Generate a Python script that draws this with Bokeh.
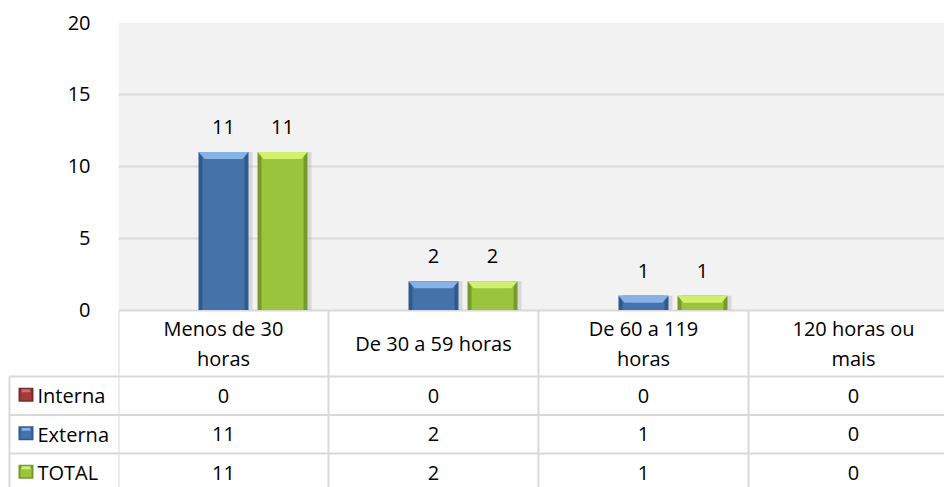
from bokeh.plotting import figure
from bokeh.models import Range1d, FixedTicker, BoxAnnotation
from bokeh.core.properties import value
from bokeh.embed import file_html
from bokeh.resources import INLINE

# ---------------- data ----------------
categories = ["Menos de 30 horas", "De 30 a 59 horas", "De 60 a 119 horas", "120 horas ou mais"]
category_labels = ["Menos de 30\nhoras", "De 30 a 59 horas", "De 60 a 119\nhoras", "120 horas ou\nmais"]
series_names = ["Interna", "Externa", "TOTAL"]
interna = [0, 0, 0, 0]
externa = [11, 2, 1, 0]
total = [11, 2, 1, 0]
y_ticks = [0, 5, 10, 15, 20]

# ---------------- styles / geometry ----------------
FONT = value("Open Sans")
FS = "20px"
TXT = "#000000"
GRID = "#d9d9d9"
W, H = 944, 487
FRAME_L, FRAME_T = 118, 22
COL_PX = 210.0      # width of one category column (px)
UNIT_PX = 14.375    # px per value unit
ZERO_PY = 309.5     # page y of value 0


def vy(py):
    """page y (px) -> value units"""
    return (ZERO_PY - py) / UNIT_PX


def vx(px):
    """page x (px) -> category units"""
    return (px - FRAME_L) / COL_PX


ROW_EDGES_PY = [ZERO_PY, 376, 414.5, 453, 491.5]

series_vals = [interna, externa, total]
series_style = [
    dict(edge="#7e2a2a", body="#a33b3b", cap="#d46a6a"),
    dict(edge="#2f5a8d", body="#4672aa", cap="#86b2e8"),
    dict(edge="#789a2b", body="#9bc43e", cap="#d2f070"),
]
offsets_px = [-59, 0, 59]
BAR_W = 50 / COL_PX

y_bottom = vy(H)
x_right = vx(W)
p = figure(width=W, height=H, x_range=Range1d(0, x_right), y_range=Range1d(y_bottom, 20),
           output_backend="svg", toolbar_location=None, x_axis_location=None,
           min_border_left=FRAME_L, min_border_right=0, min_border_top=FRAME_T,
           min_border_bottom=0)
p.outline_line_color = None
p.background_fill_color = "white"
p.xgrid.visible = False
p.ygrid.ticker = FixedTicker(ticks=y_ticks)
p.ygrid.grid_line_color = GRID
p.ygrid.grid_line_width = 2
p.yaxis.ticker = FixedTicker(ticks=y_ticks)
p.yaxis.axis_line_color = None
p.yaxis.major_tick_line_color = None
p.yaxis.minor_tick_line_color = None
p.yaxis.major_label_standoff = 22
p.yaxis.major_label_text_font = "Open Sans"
p.yaxis.major_label_text_font_size = FS
p.yaxis.major_label_text_color = TXT

p.add_layout(BoxAnnotation(bottom=0, top=20, fill_color="#f2f2f2", fill_alpha=1,
                           line_color=None, level="image"))

# ---------------- bars ----------------
ncat = len(categories)
for vals, st, off in zip(series_vals, series_style, offsets_px):
    xs = [i + 0.5 + off / COL_PX for i, v in enumerate(vals) if v > 0]
    vs = [v for v in vals if v > 0]
    if not vs:
        continue
    p.vbar(x=[x + 4 / COL_PX for x in xs], width=BAR_W, top=vs, bottom=0,
           fill_color="#b8b8b8", fill_alpha=0.45, line_color=None)
    p.vbar(x=xs, width=BAR_W, top=vs, bottom=0, fill_color=st["edge"], line_color=None)
    p.vbar(x=xs, width=BAR_W - 8 / COL_PX, top=vs, bottom=0, fill_color=st["body"], line_color=None)
    cap_h = 7 / UNIT_PX
    ins = 6 / COL_PX
    p.patches(xs=[[x - BAR_W / 2, x + BAR_W / 2, x + BAR_W / 2 - ins, x - BAR_W / 2 + ins] for x in xs],
              ys=[[v, v, v - cap_h, v - cap_h] for v in vs],
              fill_color=st["cap"], line_color=None)
    p.text(x=xs, y=vs, text=[str(v) for v in vs], y_offset=-25,
           text_align="center", text_baseline="middle", text_font=FONT,
           text_font_size=FS, text_color=TXT)

# ---------------- data table ----------------
nrow = len(series_names)
x_tab_left = vx(9)
# header / value column borders
for b in range(ncat + 1):
    p.segment(x0=[b], y0=[0], x1=[b], y1=[vy(ROW_EDGES_PY[-1])], line_color=GRID, line_width=2)
# row borders (extend into the legend column left of the plot area)
for py in ROW_EDGES_PY[1:]:
    p.segment(x0=[x_tab_left], y0=[vy(py)], x1=[x_right], y1=[vy(py)], line_color=GRID,
              line_width=2, level="overlay")
p.segment(x0=[x_tab_left], y0=[vy(ROW_EDGES_PY[1])], x1=[x_tab_left], y1=[vy(ROW_EDGES_PY[-1])],
          line_color=GRID, line_width=2, level="overlay")

p.text(x=[i + 0.5 for i in range(ncat)], y=[vy((ROW_EDGES_PY[0] + ROW_EDGES_PY[1]) / 2)] * ncat,
       text=category_labels, text_align="center", text_baseline="middle", text_font=FONT,
       text_font_size=FS, text_color=TXT, text_line_height=1.1)

row_centers = [vy((ROW_EDGES_PY[r + 1] + ROW_EDGES_PY[r + 2]) / 2) for r in range(nrow)]
# legend keys (drawn as thick segments so they show left of the plot area)
key_y = [c + 1 / UNIT_PX for c in row_centers]
p.segment(x0=[vx(18)] * nrow, y0=key_y, x1=[vx(33)] * nrow, y1=key_y, line_width=14,
          line_color=[s["edge"] for s in series_style], level="overlay")
p.segment(x0=[vx(20)] * nrow, y0=[k - 1 / UNIT_PX for k in key_y], x1=[vx(31)] * nrow,
          y1=[k - 1 / UNIT_PX for k in key_y], line_width=9,
          line_color=[s["body"] for s in series_style], level="overlay")
p.segment(x0=[vx(21)] * nrow, y0=[k + 4 / UNIT_PX for k in key_y], x1=[vx(30)] * nrow,
          y1=[k + 4 / UNIT_PX for k in key_y], line_width=3,
          line_color=[s["cap"] for s in series_style], level="overlay")
p.text(x=[vx(37)] * nrow, y=row_centers, text=series_names, text_align="left",
       text_baseline="middle", text_font=FONT, text_font_size=FS, text_color=TXT, level="overlay")

for r, vals in enumerate(series_vals):
    p.text(x=[i + 0.5 for i in range(ncat)], y=[row_centers[r]] * ncat, text=[str(v) for v in vals],
           text_align="center", text_baseline="middle", text_font=FONT, text_font_size=FS,
           text_color=TXT)

open("out.html", "w").write(file_html(p, INLINE))
